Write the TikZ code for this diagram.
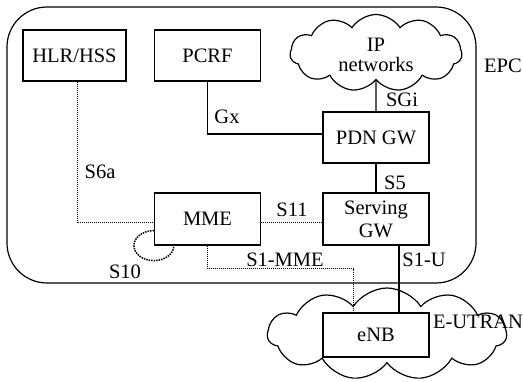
\documentclass[tikz,border=0pt]{standalone}
\usepackage{fontspec}
\setmainfont{Liberation Serif}
\usetikzlibrary{shapes.symbols, positioning, calc, backgrounds}

\begin{document}
\begin{tikzpicture}[
    x=1pt, y=1pt,
    font=\fontsize{20.5}{23}\selectfont,
    box/.style={rectangle, draw, line width=1.2pt, fill=white, minimum width=106pt, minimum height=51pt, inner sep=0pt, align=center},
    net/.style={cloud, draw, line width=1.2pt, fill=white, cloud puffs=11, cloud puff arc=115, inner sep=0pt, align=center},
    frame/.style={rectangle, draw, line width=1.2pt, rounded corners=40pt},
    ctrl/.style={densely dotted, line width=1pt},
    usr/.style={line width=1.2pt},
    lbl/.style={inner sep=0pt},
]
\useasboundingbox (0,0) rectangle (523,381);

% EPC frame
\node[frame, minimum width=469pt, minimum height=276pt] (epc) at (241.5,236) {};
\node[lbl] (epclbl) at (503,315) {EPC};

% Core nodes
\node[box, minimum width=103pt] (hss) at (74.5,325.5) {HLR/HSS};
\node[box] (pcrf) at (207.5,325.5) {PCRF};
\node[net, minimum width=172pt, minimum height=77pt] (ipnet) at (376,328) {};
\node[lbl, align=center] (ipnettxt) at (376,326) {IP\\[-3pt]networks};
\node[box] (pgw) at (376,243.5) {PDN GW};
\node[box, minimum height=52pt] (sgw) at (376,162) {Serving\\GW};
\node[box, minimum height=52pt] (mme) at (207.5,162) {MME};

% --- E-UTRAN ---
\node[net, minimum width=239pt, minimum height=92pt] (eutran) at (387,47) {};
\node[box, minimum height=44pt] (enb) at (376,46) {eNB};
\node[lbl] (eutranlbl) at (478,59) {E-UTRAN};

% S10 loop behind MME
\begin{scope}[on background layer]
\draw[densely dotted, line width=1.5pt] (mme.south west) ellipse [x radius=20, y radius=15];
\end{scope}

% Interfaces
\draw[ctrl] ([xshift=2.5pt]hss.south) |- ([yshift=-4pt]mme.west);
\draw[usr] (pcrf.south) |- ([yshift=3.5pt]pgw.west);
\draw[usr] (ipnet.south) -- (pgw.north);
\draw[usr] (pgw.south) -- (sgw.north);
\draw[ctrl] ([yshift=-4pt]mme.east) -- ([yshift=-4pt]sgw.west);
\draw[ctrl] (mme.south) -- ++(0,-23) -| ([xshift=-23pt]enb.north);
\draw[usr] ([xshift=23pt]sgw.south) -- ([xshift=23pt]enb.north);

\node[lbl] (sgilbl) at (402,281) {SGi};
\node[lbl] (gxlbl) at (227,264) {Gx};
\node[lbl] (s6albl) at (100,209) {S6a};
\node[lbl] (s5lbl) at (395,198) {S5};
\node[lbl] (s11lbl) at (292,171) {S11};
\node[lbl] (s1mmelbl) at (285,121) {S1-MME};
\node[lbl] (s1ulbl) at (424,121) {S1-U};
\node[lbl] (s10lbl) at (125,109) {S10};

\end{tikzpicture}
\end{document}
